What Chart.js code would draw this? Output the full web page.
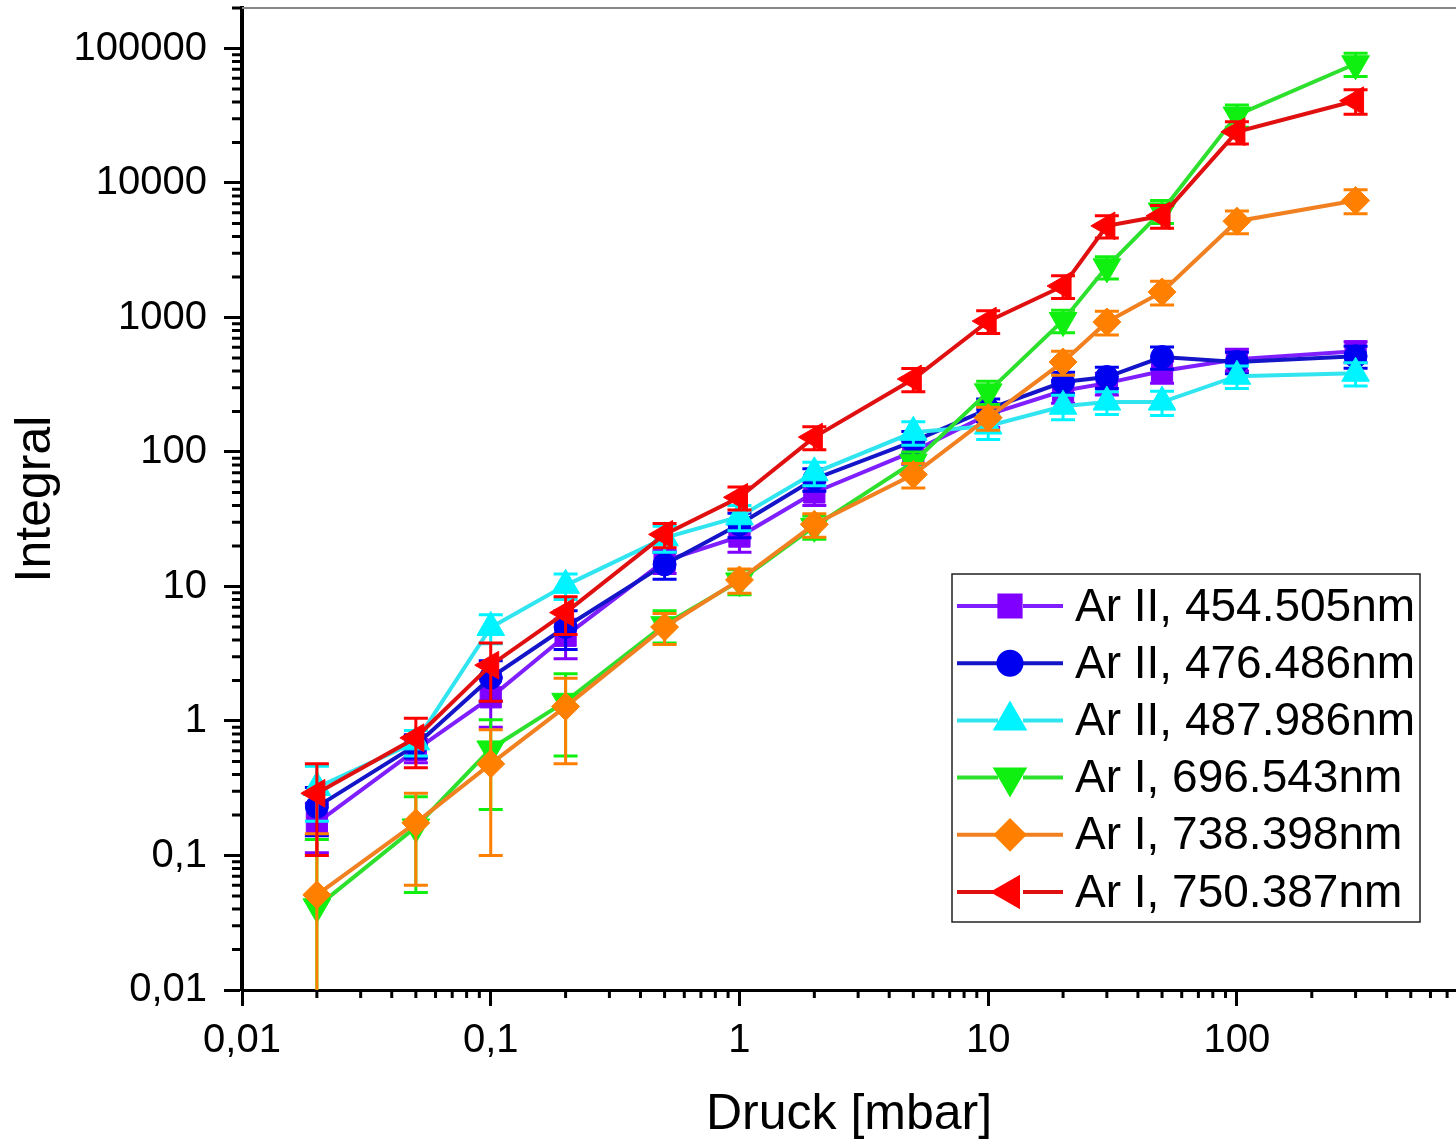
<!DOCTYPE html>
<html>
<head>
<meta charset="utf-8">
<script src="https://cdn.jsdelivr.net/npm/chart.js@4.4.0/dist/chart.umd.min.js"></script>
<style>
  html, body { margin: 0; padding: 0; background: #fff; overflow: hidden; }
  #wrap { width: 1456px; height: 1144px; }
</style>
</head>
<body>
<div id="wrap"><canvas id="chart" width="1456" height="1144"></canvas></div>
<script>
'use strict';

// Druckstufen (mbar)
const DRUCK = [0.02, 0.05, 0.1, 0.2, 0.5, 1, 2, 5, 10, 20, 30, 50, 100, 300];

// Linienintegrale + Fehler
const AR2_454 = [0.175, 0.61, 1.5, 4.3, 15.5, 23.5, 50, 101, 190, 285, 325, 400, 490, 560];
const AR2_454_ERR = [0.07, 0.12, 0.6, 1.4, 3, 5.5, 10, 20, 38, 55, 60, 75, 90, 100];

const AR2_476 = [0.23, 0.66, 2.1, 5.0, 14.6, 29, 63, 120, 208, 331, 361, 508, 467, 515];
const AR2_476_ERR = [0.09, 0.13, 0.7, 1.6, 3.3, 6, 12, 22, 40, 60, 65, 95, 85, 95];

const AR2_488 = [0.32, 0.70, 4.96, 10.2, 23, 33, 70, 140, 156, 219, 235, 235, 366, 385];
const AR2_488_ERR = [0.14, 0.15, 1.2, 2.2, 5, 7, 14, 28, 32, 45, 45, 48, 70, 75];

const AR1_697 = [0.0415, 0.163, 0.62, 1.4, 5.2, 11, 28, 84, 280, 950, 2380, 6200, 32000, 77000];
const AR1_697_ERR = [0.09, 0.11, 0.4, 0.85, 1.4, 2.3, 5.5, 16, 55, 180, 450, 1200, 6000, 15000];

const AR1_738 = [0.051, 0.175, 0.48, 1.28, 5.0, 11.2, 29, 68, 180, 467, 926, 1550, 5200, 7400];
const AR1_738_ERR = [0.094, 0.115, 0.38, 0.8, 1.3, 2.3, 5.8, 14, 35, 95, 185, 310, 1000, 1500];

const AR1_750 = [0.29, 0.75, 2.6, 6.4, 24.4, 46, 129, 349, 940, 1715, 4800, 5700, 24000, 40900];
const AR1_750_ERR = [0.19, 0.3, 1.2, 2, 5, 9, 25, 68, 180, 330, 900, 1100, 4500, 8500];

const X_TICKS = [0.01, 0.1, 1, 10, 100];
const Y_TICKS = [0.01, 0.1, 1, 10, 100, 1000, 10000, 100000];
const MINOR = [2, 3, 4, 5, 6, 7, 8, 9];

const FONT = "'Liberation Sans', Arial, sans-serif";

// label, werte, fehler, linie, marker, symbol, rotation, radius
const SERIES = [
  ['Ar II, 454.505nm', AR2_454, AR2_454_ERR, '#7f1fff', '#8000ff', 'rect', 0, 15],
  ['Ar II, 476.486nm', AR2_476, AR2_476_ERR, '#1414c8', '#0000f0', 'circle', 0, 11.5],
  ['Ar II, 487.986nm', AR2_488, AR2_488_ERR, '#30e5f0', '#00f4ff', 'triangle', 0, 16],
  ['Ar I, 696.543nm',  AR1_697, AR1_697_ERR, '#2ee02e', '#10f010', 'triangle', 180, 16],
  ['Ar I, 738.398nm',  AR1_738, AR1_738_ERR, '#f08020', '#ff8000', 'rectRot', 0, 14],
  ['Ar I, 750.387nm',  AR1_750, AR1_750_ERR, '#e01010', '#ff0000', 'triangle', -90, 16],
];

const fmt = (v) => String(v).replace('.', ',');

// keine Randpolster durch Tick-Labels
const noPad = (s) => { s.paddingTop = 0; s.paddingBottom = 0; s.paddingLeft = 0; s.paddingRight = 0; };

// Fehlerbalken pro Datensatz, direkt vor dessen Linie
const errorBars = {
  id: 'errorBars',
  beforeDatasetDraw(chart, args) {
    const ds = chart.data.datasets[args.index];
    if (!ds.errors) return;
    const { ctx, chartArea: a, scales: { x, y } } = chart;
    const cap = 12;
    ctx.save();
    ctx.beginPath();
    ctx.rect(a.left, a.top, a.right - a.left, a.bottom - a.top);
    ctx.clip();
    ctx.strokeStyle = ds.pointBackgroundColor;
    ctx.lineWidth = 3;
    ds.data.forEach((p, i) => {
      const e = ds.errors[i];
      const px = x.getPixelForValue(p.x);
      const hi = y.getPixelForValue(p.y + e);
      const hasLo = p.y - e > 0;
      const lo = hasLo ? y.getPixelForValue(p.y - e) : a.bottom + 10;
      ctx.beginPath();
      ctx.moveTo(px, hi); ctx.lineTo(px, lo);
      ctx.moveTo(px - cap, hi); ctx.lineTo(px + cap, hi);
      if (hasLo) { ctx.moveTo(px - cap, lo); ctx.lineTo(px + cap, lo); }
      ctx.stroke();
    });
    ctx.restore();
  }
};

// Nebenstriche + oberer Rahmen
const axisExtras = {
  id: 'axisExtras',
  afterDraw(chart) {
    const { ctx, chartArea: a, scales: { x, y } } = chart;
    ctx.save();
    ctx.strokeStyle = '#000';
    ctx.lineWidth = 3;
    ctx.beginPath();
    Y_TICKS.forEach(d => MINOR.forEach(k => {
      const v = d * k;
      if (v > y.max) return;
      const py = y.getPixelForValue(v);
      ctx.moveTo(a.left - 10, py); ctx.lineTo(a.left, py);
    }));
    X_TICKS.forEach(d => MINOR.forEach(k => {
      const v = d * k;
      if (v > x.max) return;
      const px = x.getPixelForValue(v);
      ctx.moveTo(px, a.bottom); ctx.lineTo(px, a.bottom + 8);
    }));
    ctx.stroke();
    ctx.strokeStyle = '#888';
    ctx.lineWidth = 2;
    ctx.beginPath();
    ctx.moveTo(a.left, a.top); ctx.lineTo(a.right, a.top);
    ctx.stroke();
    ctx.restore();
  }
};

// Legende im Plotbereich (Linie + Symbol + Text)
const boxLegend = {
  id: 'boxLegend',
  afterDraw(chart) {
    const { ctx, chartArea: a } = chart;
    const w = 468, h = 348, rowH = 57.2;
    const left = a.right - 36 - w, top = a.bottom - 68 - h;
    ctx.save();
    ctx.fillStyle = '#fff';
    ctx.fillRect(left, top, w, h);
    ctx.strokeStyle = '#222';
    ctx.lineWidth = 1.5;
    ctx.strokeRect(left, top, w, h);
    ctx.font = '46px ' + FONT;
    ctx.textBaseline = 'middle';
    chart.data.datasets.forEach((ds, i) => {
      const cy = top + 32 + i * rowH;
      const mx = left + 58;
      ctx.strokeStyle = ds.borderColor;
      ctx.lineWidth = 4;
      ctx.beginPath();
      ctx.moveTo(left + 5, cy); ctx.lineTo(mx - 12, cy);
      ctx.moveTo(mx + 13, cy); ctx.lineTo(left + 111, cy);
      ctx.stroke();
      ctx.fillStyle = ds.pointBackgroundColor;
      ctx.strokeStyle = ds.pointBorderColor;
      Chart.helpers.drawPoint(ctx, {
        pointStyle: ds.pointStyle, rotation: ds.pointRotation,
        radius: ds.pointRadius, borderWidth: 1,
      }, mx, cy);
      ctx.fillStyle = '#000';
      ctx.fillText(ds.label, left + 123, cy + 2);
    });
    ctx.restore();
  }
};

new Chart(document.getElementById('chart'), {
  type: 'line',
  data: {
    datasets: SERIES.map(([label, vals, errs, line, mark, style, rot, r], i) => ({
      label,
      data: DRUCK.map((x, j) => ({ x, y: vals[j] })),
      errors: errs,
      borderColor: line,
      borderWidth: 4,
      backgroundColor: mark,
      pointBackgroundColor: mark,
      pointBorderColor: mark,
      pointBorderWidth: 1,
      pointStyle: style,
      pointRotation: rot,
      pointRadius: r,
      tension: 0,
      order: SERIES.length - i,
    })),
  },
  options: {
    responsive: false,
    animation: false,
    devicePixelRatio: 1,
    layout: { autoPadding: false, padding: { top: 8, right: 0, left: 0, bottom: 0 } },
    plugins: { legend: { display: false }, tooltip: { enabled: false } },
    scales: {
      x: {
        type: 'logarithmic',
        min: 0.01, max: 760,
        afterBuildTicks: (s) => { s.ticks = X_TICKS.map(v => ({ value: v })); },
        afterFit: (s) => { s.height = 154; noPad(s); },
        border: { color: '#000', width: 3 },
        grid: { drawOnChartArea: false, drawTicks: true, tickLength: 16, tickWidth: 3, tickColor: '#000' },
        ticks: { color: '#000', font: { family: FONT, size: 40 }, padding: 11, maxRotation: 0, autoSkip: false, callback: fmt },
        title: { display: true, text: 'Druck [mbar]', color: '#000', font: { family: FONT, size: 50 }, padding: { top: 0, bottom: -1 } },
      },
      y: {
        type: 'logarithmic',
        min: 0.01, max: 200000,
        afterBuildTicks: (s) => { s.ticks = Y_TICKS.map(v => ({ value: v })); },
        afterFit: (s) => { s.width = 242; noPad(s); },
        border: { color: '#000', width: 4 },
        grid: { drawOnChartArea: false, drawTicks: true, tickLength: 18, tickWidth: 3, tickColor: '#000' },
        ticks: { color: '#000', font: { family: FONT, size: 40 }, padding: 17, autoSkip: false, callback: fmt },
        title: { display: true, text: 'Integral', color: '#000', font: { family: FONT, size: 50 }, padding: { top: 6, bottom: 0 } },
      },
    },
  },
  plugins: [errorBars, axisExtras, boxLegend],
});
</script>
</body>
</html>
